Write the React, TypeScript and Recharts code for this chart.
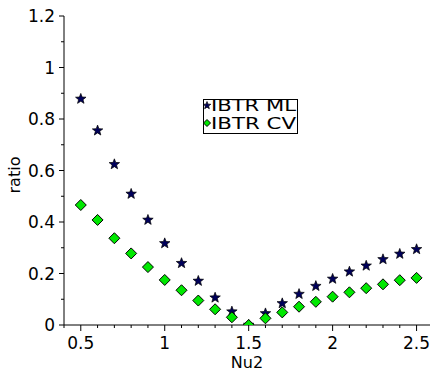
import React from 'react';
import { ScatterChart, Scatter, XAxis, YAxis } from 'recharts';

const nu2 = [0.5, 0.6, 0.7, 0.8, 0.9, 1.0, 1.1, 1.2, 1.3, 1.4, 1.5, 1.6, 1.7, 1.8, 1.9, 2.0, 2.1, 2.2, 2.3, 2.4, 2.5];
const ibtrML = [0.878, 0.755, 0.624, 0.509, 0.408, 0.317, 0.24, 0.171, 0.106, 0.052, 0.0, 0.045, 0.084, 0.12, 0.151, 0.179, 0.207, 0.23, 0.255, 0.276, 0.294];
const ibtrCV = [0.466, 0.408, 0.337, 0.278, 0.225, 0.175, 0.135, 0.095, 0.061, 0.03, 0.0, 0.026, 0.049, 0.071, 0.09, 0.11, 0.127, 0.143, 0.158, 0.174, 0.183];

const xTicks = [0.4, 0.5, 0.6, 0.7, 0.8, 0.9, 1.0, 1.1, 1.2, 1.3, 1.4, 1.5, 1.6, 1.7, 1.8, 1.9, 2.0, 2.1, 2.2, 2.3, 2.4, 2.5];
const xTickLabels = ['', '0.5', '', '', '', '', '1', '', '', '', '', '1.5', '', '', '', '', '2', '', '', '', '', '2.5'];
const yTicks = [0, 0.1, 0.2, 0.3, 0.4, 0.5, 0.6, 0.7, 0.8, 0.9, 1.0, 1.1, 1.2];
const yTickLabels = ['0', '', '0.2', '', '0.4', '', '0.6', '', '0.8', '', '1', '', '1.2'];
const seriesNames = ['IBTR ML', 'IBTR CV'];

const mlData = nu2.map((x, i) => ({ x, y: ibtrML[i] }));
const cvData = nu2.map((x, i) => ({ x, y: ibtrCV[i] }));

const FONT = '"DejaVu Sans", sans-serif';
const STAR_FILL = '#00005a';
const DIAMOND_FILL = '#00e800';

function starPoints(cx: number, cy: number, R: number, r: number) {
  const pts: string[] = [];
  for (let k = 0; k < 10; k++) {
    const ang = -Math.PI / 2 + (k * Math.PI) / 5;
    const rad = k % 2 === 0 ? R : r;
    pts.push(`${cx + rad * Math.cos(ang)},${cy + rad * Math.sin(ang)}`);
  }
  return pts.join(' ');
}

function Star(props: any) {
  const { cx, cy, size } = props;
  const R = size || 6;
  return <polygon points={starPoints(cx, cy, R, R * 0.42)} fill={STAR_FILL} stroke="#000" strokeWidth={0.7} />;
}

function Diamond(props: any) {
  const { cx, cy, size } = props;
  const h = size || 5.5;
  return (
    <polygon
      points={`${cx},${cy - h} ${cx + h},${cy} ${cx},${cy + h} ${cx - h},${cy}`}
      fill={DIAMOND_FILL}
      stroke="#000"
      strokeWidth={1}
    />
  );
}

function XTick(props: any) {
  const { x, y, payload } = props;
  const label = xTickLabels[xTicks.indexOf(payload.value)] ?? '';
  const major = label !== '';
  return (
    <g>
      <line x1={x} y1={y} x2={x} y2={y + (major ? 6 : 3)} stroke="#000" strokeWidth={1} />
      {major && (
        <text x={x} y={y + 23.5} textAnchor="middle" fontFamily={FONT} fontSize={17} fill="#000">
          {label}
        </text>
      )}
    </g>
  );
}

function YTick(props: any) {
  const { x, y, payload } = props;
  const label = yTickLabels[yTicks.indexOf(payload.value)] ?? '';
  const major = label !== '';
  return (
    <g>
      <line x1={x - (major ? 5 : 3)} y1={y} x2={x} y2={y} stroke="#000" strokeWidth={1} />
      {major && (
        <text x={x - 9} y={y + 6} textAnchor="end" fontFamily={FONT} fontSize={17} fill="#000">
          {label}
        </text>
      )}
    </g>
  );
}

export default function App() {
  return (
    <div style={{ position: 'fixed', left: 0, top: 0, width: 430, height: 372, background: '#fff' }}>
      <ScatterChart width={430} height={372} margin={{ top: 16, right: 0, bottom: 0, left: 0 }}>
        <XAxis
          type="number"
          dataKey="x"
          domain={[0.4, 2.58]}
          allowDataOverflow
          ticks={xTicks}
          interval={0}
          height={47}
          tickSize={0}
          tickMargin={0}
          tickLine={false}
          axisLine={{ stroke: '#000', strokeWidth: 1 }}
          tick={<XTick />}
        />
        <YAxis
          type="number"
          dataKey="y"
          domain={[0, 1.2]}
          allowDataOverflow
          ticks={yTicks}
          interval={0}
          width={64}
          tickSize={0}
          tickMargin={0}
          tickLine={false}
          axisLine={{ stroke: '#000', strokeWidth: 1 }}
          tick={<YTick />}
        />
        <Scatter name={seriesNames[0]} data={mlData} isAnimationActive={false} shape={(p: any) => <Star cx={p.cx} cy={p.cy} size={5.5} />} />
        <Scatter name={seriesNames[1]} data={cvData} isAnimationActive={false} shape={(p: any) => <Diamond cx={p.cx} cy={p.cy} size={5.5} />} />
      </ScatterChart>
      <svg width={430} height={372} style={{ position: 'absolute', left: 0, top: 0, pointerEvents: 'none' }}>
        <text x={247} y={368} textAnchor="middle" fontFamily={FONT} fontSize={16} fill="#000">Nu2</text>
        <text x={20} y={175} textAnchor="middle" fontFamily={FONT} fontSize={16} fill="#000" transform="rotate(-90 20 175)">ratio</text>
        <rect x={203.5} y={99.5} width={94} height={34} fill="#fff" stroke="#000" strokeWidth={1} />
        <Star cx={207} cy={105.5} size={4} />
        <text x={211} y={110.7} fontFamily={FONT} fontSize={15} fill="#000" textLength={85} lengthAdjust="spacingAndGlyphs">{seriesNames[0]}</text>
        <Diamond cx={207} cy={123} size={3.5} />
        <text x={211} y={129.3} fontFamily={FONT} fontSize={15} fill="#000" textLength={85} lengthAdjust="spacingAndGlyphs">{seriesNames[1]}</text>
      </svg>
    </div>
  );
}
